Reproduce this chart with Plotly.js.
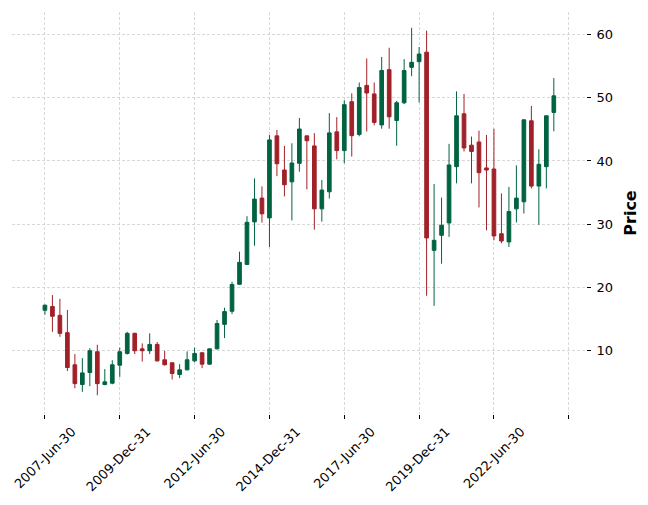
<!DOCTYPE html>
<html>
<head>
<meta charset="utf-8">
<script src="https://cdn.plot.ly/plotly-3.0.1.min.js"></script>
<style>html,body{margin:0;padding:0;background:#fff;}#chart{width:648px;height:505px;}</style>
</head>
<body>
<div id="chart"></div>
<script>
// Quarterly OHLC, first candle 2007-Jun-30, one per quarter
const opens  = [16.4,17.0,15.6,12.86,7.78,4.66,6.56,9.84,4.66,4.87,7.72,9.57,12.75,10.3,10.0,11.0,8.57,8.1,6.24,6.98,8.4,9.68,7.88,10.3,14.17,16.24,20.5,23.65,30.37,34.13,31.0,43.97,38.57,36.7,39.63,43.97,42.38,32.43,35.13,44.6,41.64,49.37,44.2,51.95,50.6,45.7,54.44,46.4,49.2,54.8,55.7,57.2,25.87,28.25,30.2,39.1,47.46,42.5,43.0,38.9,38.73,28.5,27.2,32.43,33.55,46.35,36.03,39.1,47.67];
const highs  = [17.3,18.8,18.2,16.45,9.47,8.83,10.4,10.95,7.1,8.5,10.5,13.0,12.86,11.16,12.75,11.38,10.0,8.1,7.88,9.9,10.5,9.75,10.4,14.87,16.8,20.9,25.66,31.27,37.25,35.98,44.1,44.9,42.38,42.8,46.8,44.0,44.4,37.0,47.57,46.93,49.6,50.7,52.4,56.2,52.4,56.45,57.9,49.5,56.1,61.06,58.0,60.6,36.35,34.2,42.7,51.0,50.6,43.86,44.8,44.1,45.1,34.87,35.9,39.3,46.6,48.7,41.86,47.2,53.1];
const lows   = [15.7,13.0,12.2,6.8,4.07,3.5,4.4,2.96,4.55,4.7,5.87,9.4,9.47,8.3,9.47,8.3,7.67,5.45,5.66,6.9,8.2,7.25,7.8,10.2,12.0,15.8,20.4,23.6,26.6,30.26,26.4,37.6,34.4,30.6,38.3,35.5,29.15,30.4,34.07,40.26,39.63,40.7,43.9,44.65,45.65,45.1,45.1,42.4,49.0,53.4,49.25,18.7,17.1,23.76,28.0,36.46,41.5,36.46,32.65,29.05,27.46,27.0,26.4,30.3,31.7,35.66,29.9,35.66,44.7];
const closes = [17.2,15.45,12.75,7.35,4.8,6.5,10.0,4.8,5.08,7.78,9.84,12.75,10.0,10.0,11.0,8.4,7.78,6.4,6.98,8.57,9.57,7.88,10.3,14.3,16.19,20.48,23.97,30.3,33.97,31.64,43.33,39.57,36.24,39.68,45.05,43.2,32.43,35.4,44.44,41.64,48.9,44.0,51.6,50.75,46.1,54.3,46.98,49.2,54.3,55.6,56.9,27.83,27.46,29.84,39.37,47.14,42.06,41.5,38.15,38.57,28.15,27.35,32.0,34.13,46.5,36.03,39.47,47.14,50.3];
const tickIndex  = [0,10,20,30,40,50,60,70];
const tickLabels = ['2007-Jun-30','2009-Dec-31','2012-Jun-30','2014-Dec-31','2017-Jun-30','2019-Dec-31','2022-Jun-30',''];
const yTicks = [10,20,30,40,50,60];

const idx = opens.map((_, i) => i);
const UP = '#006340', DOWN = '#a02128';

const trace = {
  type: 'candlestick',
  x: idx, open: opens, high: highs, low: lows, close: closes,
  increasing: {line: {color: UP, width: 1}, fillcolor: UP},
  decreasing: {line: {color: DOWN, width: 1}, fillcolor: DOWN},
  whiskerwidth: 0,
  hoverinfo: 'none'
};

const gridStyle = {gridcolor: '#c8c8c8', gridwidth: 0.7, griddash: '3px,2px'};
const layout = {
  width: 648, height: 505,
  margin: {l: 12, r: 62, t: 12, b: 91},
  paper_bgcolor: '#ffffff', plot_bgcolor: '#ffffff',
  showlegend: false,
  font: {family: 'DejaVu Sans', size: 13, color: '#000'},
  xaxis: Object.assign({
    range: [-4.4, 72.3], tickmode: 'array', tickvals: tickIndex, ticktext: tickLabels,
    tickangle: -45, ticks: 'outside', ticklen: 4, tickwidth: 1, tickcolor: '#000',
    showline: false, zeroline: false, rangeslider: {visible: false},
    tickfont: {family: 'DejaVu Sans', size: 13, color: '#000'},
    ticklabelshift: 27, ticklabelstandoff: 0, fixedrange: true
  }, gridStyle),
  yaxis: Object.assign({
    side: 'right', range: [0, 63.55], tickmode: 'array', tickvals: yTicks,
    ticks: 'outside', ticklen: 4, tickwidth: 1, tickcolor: '#000',
    showline: false, zeroline: false, ticklabelstandoff: 3,
    tickfont: {family: 'DejaVu Sans', size: 13, color: '#000'},
    title: {text: '<b>Price</b>', font: {family: 'DejaVu Sans', size: 16, color: '#000'}}
  }, gridStyle)
};

Plotly.newPlot('chart', [trace], layout, {displayModeBar: false, staticPlot: true});
</script>
</body>
</html>
